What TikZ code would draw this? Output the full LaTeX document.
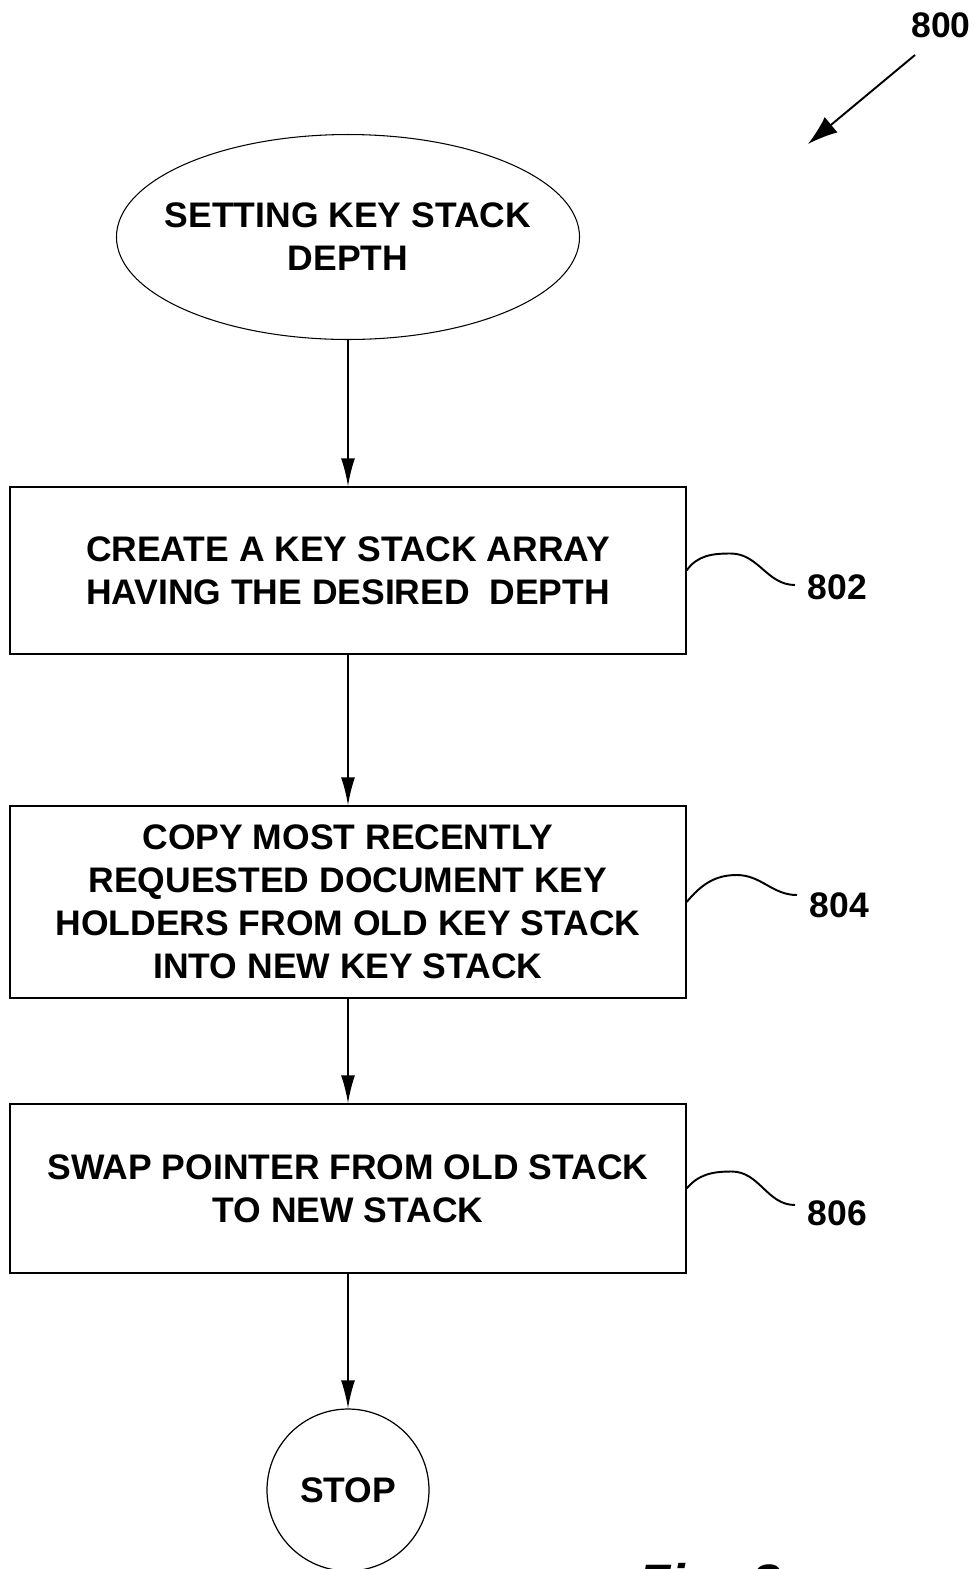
\documentclass[tikz,border=0pt]{standalone}
\usepackage{fontspec}
\newfontfamily\flowfont{Liberation Sans}
\usetikzlibrary{shapes.geometric,arrows.meta}
\tikzset{
  stepbox/.style={draw, line width=0.8pt, rectangle, minimum width=13.52cm, align=center, inner sep=0pt},
  startoval/.style={draw, line width=0.6pt, ellipse, inner xsep=-11pt, minimum height=4.1cm, align=center},
  stopcirc/.style={draw, line width=0.7pt, circle, minimum size=3.24cm, inner sep=0pt},
  flowarrow/.style={line width=1pt, -{Latex[length=0.56cm,width=0.28cm]}},
  leadarrow/.style={line width=1.1pt, -{Latex[length=0.6cm,width=0.4cm]}},
  refline/.style={line width=1.1pt},
  reflabel/.style={anchor=west, inner sep=3pt},
}
\begin{document}
\begin{tikzpicture}[x=0.02cm, y=-0.02cm, font=\flowfont\bfseries\fontsize{20.2}{24.5}\selectfont]
                \useasboundingbox (0,0) rectangle (977,1569);

                \node[startoval] (start) at (348,237) {SETTING KEY STACK\\DEPTH};
                \node[stepbox, minimum height=3.34cm] (b1) at (348,570.5)
                    {CREATE A KEY STACK ARRAY\\HAVING THE DESIRED\ \ DEPTH};
                \node[stepbox, minimum height=3.84cm] (b2) at (348,902)
                    {COPY MOST RECENTLY\\REQUESTED DOCUMENT KEY\\HOLDERS FROM OLD KEY STACK\\INTO NEW KEY STACK};
                \node[stepbox, minimum height=3.38cm] (b3) at (348,1188.5)
                    {SWAP POINTER FROM OLD STACK\\TO NEW STACK};
                \node[stopcirc] (stop) at (348,1490) {STOP};

                \draw[flowarrow] (start) -- (b1);
                \draw[flowarrow] (b1) -- (b2);
                \draw[flowarrow] (b2) -- (b3);
                \draw[flowarrow] (b3) -- (stop);

                % reference numerals
                \node[reflabel] (l802) at (802,587) {802};
                \node[reflabel] (l804) at (804,905) {804};
                \node[reflabel] (l806) at (802,1213) {806};
                \draw[refline] (b1.east) to[out=55,in=180] ++(44,-17) to[out=0,in=180] ([shift={(-7,-2)}]l802.west);
                \draw[refline] (b2.east) to[out=50,in=180] ++(50,-27) to[out=0,in=180] ([shift={(-7,-10)}]l804.west);
                \draw[refline] (b3.east) to[out=50,in=180] ++(45,-17) to[out=0,in=180] ([shift={(-7,-8)}]l806.west);

                \node (l800) at (941,25) {800};
                \coordinate (t800) at (915,55);
                \coordinate (h800) at (808,144);
                \draw[leadarrow] (t800) -- (h800);

                \node[anchor=base west, inner sep=0pt, font=\flowfont\fontsize{30}{30}\selectfont\bfseries\itshape] (fig) at (638,1601) {Fig. 8};
            \end{tikzpicture}
\end{document}
